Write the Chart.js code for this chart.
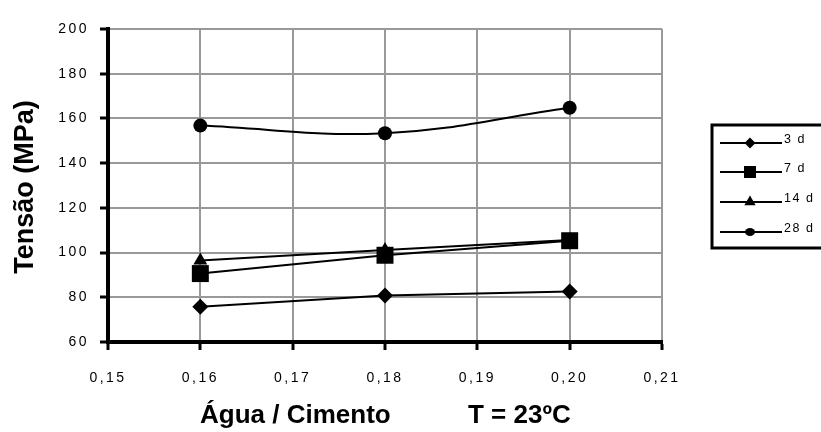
<!DOCTYPE html>
<html>
<head>
<meta charset="utf-8">
<script src="https://cdn.jsdelivr.net/npm/chart.js@4/dist/chart.umd.min.js"></script>
<style>
  html, body { margin: 0; padding: 0; background: #fff; }
  #wrap { width: 821px; height: 432px; position: relative; }
</style>
</head>
<body>
<div id="wrap"><canvas id="c" width="821" height="432"></canvas></div>
<script>
// Water/cement ratio on the x axis
const waterCement = [0.16, 0.18, 0.20];

// Compressive strength (MPa) per curing age
const strength3d  = [75.8, 80.8, 82.6];
const strength7d  = [90.6, 98.8, 105.3];
const strength14d = [96.4, 101.2, 105.6];
const strength28d = [156.8, 153.4, 164.8];

const seriesNames = ['3 d', '7 d', '14 d', '28 d'];
const xTickLabels = ['0,15', '0,16', '0,17', '0,18', '0,19', '0,20', '0,21'];

const yTitle = 'Tensão (MPa)';
const xTitle = 'Água / Cimento';
const xNote = 'T = 23ºC';

const FONT = '"Liberation Sans", Arial, sans-serif';

function pairs(ys) {
  return ys.map((y, i) => ({ x: waterCement[i], y }));
}

const markerStyles = [
  { pointStyle: 'rectRot', radius: 8, legendRadius: 5.5 },
  { pointStyle: 'rect', radius: 12, legendRadius: 8.5 },
  { pointStyle: 'triangle', radius: 8, legendRadius: 6.5 },
  { pointStyle: 'circle', radius: 7, legendRadius: 4.5 }
];

const seriesValues = [strength3d, strength7d, strength14d, strength28d];

const datasets = seriesValues.map((vals, i) => ({
  label: seriesNames[i],
  data: pairs(vals),
  borderColor: '#000',
  backgroundColor: '#000',
  borderWidth: 2,
  pointStyle: markerStyles[i].pointStyle,
  pointRadius: markerStyles[i].radius,
  pointBorderWidth: 0,
  pointBackgroundColor: '#000',
  tension: i === 3 ? 0.4 : 0,
  fill: false
}));

// spaced-out tick lettering
const spacing = {
  id: 'spacing',
  beforeUpdate(chart) { chart.ctx.letterSpacing = '2.5px'; },
  beforeDraw(chart) { chart.ctx.letterSpacing = '2.5px'; }
};

function drawMarker(ctx, style, x, y, r) {
  ctx.beginPath();
  if (style === 'rectRot') {
    ctx.moveTo(x - r, y); ctx.lineTo(x, y - r); ctx.lineTo(x + r, y); ctx.lineTo(x, y + r);
    ctx.closePath();
  } else if (style === 'rect') {
    const s = r * Math.SQRT1_2;
    ctx.rect(x - s, y - s, 2 * s, 2 * s);
  } else if (style === 'triangle') {
    ctx.moveTo(x, y - r);
    ctx.lineTo(x + r * 0.866, y + r * 0.5);
    ctx.lineTo(x - r * 0.866, y + r * 0.5);
    ctx.closePath();
  } else {
    ctx.ellipse(x, y, r + 0.5, r - 0.5, 0, 0, Math.PI * 2);
  }
  ctx.fill();
}

// axis titles and the boxed legend
const decorations = {
  id: 'decorations',
  afterDraw(chart) {
    const ctx = chart.ctx;
    ctx.save();
    ctx.letterSpacing = '0px';
    ctx.fillStyle = '#000';

    // y title
    ctx.save();
    ctx.translate(26, 187);
    ctx.rotate(-Math.PI / 2);
    ctx.font = 'bold 27px ' + FONT;
    ctx.textAlign = 'center';
    ctx.textBaseline = 'middle';
    ctx.fillText(yTitle, 0, 0);
    ctx.restore();

    // x title
    ctx.font = 'bold 26px ' + FONT;
    ctx.textAlign = 'left';
    ctx.textBaseline = 'alphabetic';
    ctx.fillText(xTitle, 200, 423);
    ctx.fillText(xNote, 468, 423);

    // legend
    const bx = 712, by = 125, bw = 140, bh = 123;
    ctx.lineWidth = 3;
    ctx.strokeStyle = '#000';
    ctx.strokeRect(bx, by, bw, bh);
    const rows = [143, 172, 202, 232];
    ctx.font = '12.5px ' + FONT;
    ctx.letterSpacing = '1.5px';
    chart.data.datasets.forEach((ds, i) => {
      const y = rows[i];
      ctx.lineWidth = 2;
      ctx.beginPath();
      ctx.moveTo(720, y);
      ctx.lineTo(782, y);
      ctx.stroke();
      drawMarker(ctx, markerStyles[i].pointStyle, 750, y, markerStyles[i].legendRadius);
      ctx.textAlign = 'left';
      ctx.textBaseline = 'alphabetic';
      ctx.fillText(ds.label, 784, y);
    });
    ctx.restore();
  }
};

new Chart(document.getElementById('c'), {
  type: 'line',
  data: { datasets },
  plugins: [spacing, decorations],
  options: {
    responsive: false,
    animation: false,
    events: [],
    layout: { padding: { top: 29, right: 159, left: 0, bottom: 0 } },
    plugins: { legend: { display: false }, tooltip: { enabled: false } },
    scales: {
      x: {
        type: 'linear',
        min: 0.15,
        max: 0.21,
        ticks: {
          stepSize: 0.01,
          padding: 20,
          color: '#000',
          font: { family: FONT, size: 14 },
          maxRotation: 0,
          callback: (v, i) => xTickLabels[i]
        },
        grid: { color: '#999', lineWidth: 2, tickColor: '#000', tickWidth: 3, tickLength: 8 },
        border: { color: '#000', width: 4 },
        afterFit(scale) { scale.height = 90; }
      },
      y: {
        min: 60,
        max: 200,
        ticks: {
          stepSize: 20,
          padding: 11,
          color: '#000',
          font: { family: FONT, size: 14 }
        },
        grid: { color: '#999', lineWidth: 2, tickColor: '#000', tickWidth: 3, tickLength: 8 },
        border: { color: '#000', width: 4 },
        afterFit(scale) { scale.width = 108; }
      }
    }
  }
});
</script>
</body>
</html>
